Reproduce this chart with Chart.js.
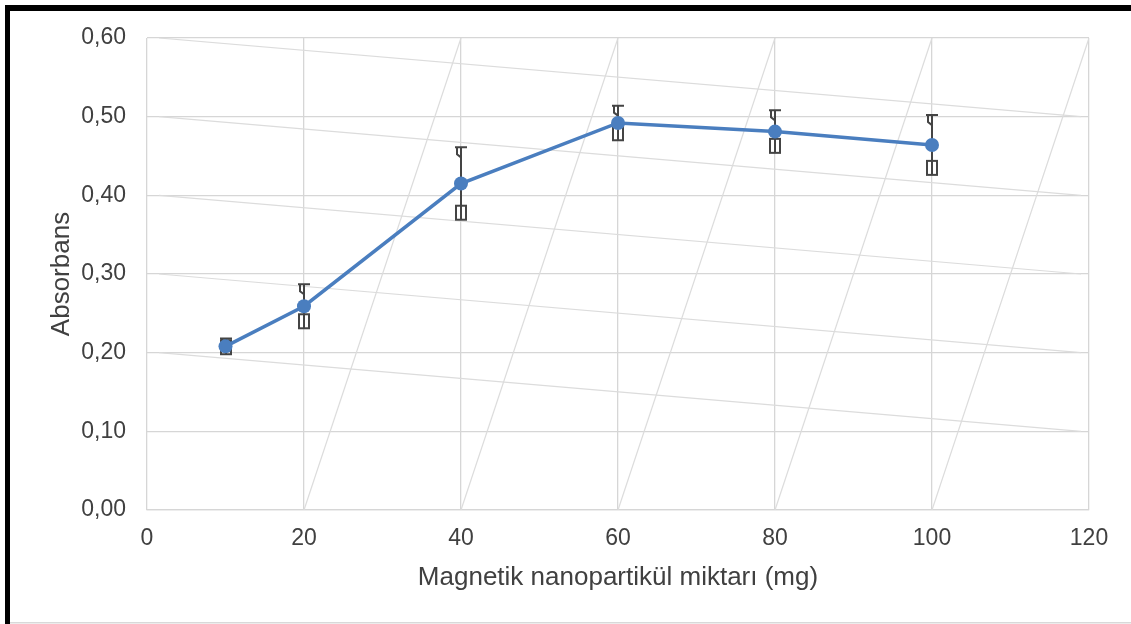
<!DOCTYPE html>
<html>
<head>
<meta charset="utf-8">
<script src="https://cdn.jsdelivr.net/npm/chart.js@4/dist/chart.umd.min.js"></script>
<style>
  html, body { margin: 0; padding: 0; background: #fff; }
  #wrap { width: 1131px; height: 624px; position: relative; }
</style>
</head>
<body>
<div id="wrap"><canvas id="chart" width="1131" height="624"></canvas></div>
<script>
// data
const xValues = [10, 20, 40, 60, 80, 100];
const absorbans = [0.208, 0.259, 0.415, 0.492, 0.481, 0.464];
const errors = [0.010, 0.028, 0.046, 0.022, 0.027, 0.038];

const xTicks = [0, 20, 40, 60, 80, 100, 120];
const yTicks = [0, 0.1, 0.2, 0.3, 0.4, 0.5, 0.6];

const xTitle = "Magnetik nanopartikül miktarı (mg)";
const yTitle = "Absorbans";

const FONT = "'Liberation Sans', Arial, sans-serif";
const TEXT = "#404040";
const GRID = "#d6d6d6";
const LINE = "#4a7ebf";

// frame round the picture
const framePlugin = {
  id: "frame",
  beforeDraw(chart) {
    const c = chart.ctx;
    c.save();
    c.fillStyle = "#fff";
    c.fillRect(0, 0, chart.width, chart.height);
    c.fillStyle = "#000";
    c.fillRect(5, 5, chart.width - 5, 6);
    c.fillRect(5, 5, 5, chart.height - 5);
    c.fillStyle = "#d9d9d9";
    c.fillRect(10, chart.height - 2, chart.width - 10, 1.5);
    c.restore();
  }
};

// the slanted grid lines and the error bars
const extrasPlugin = {
  id: "extras",
  beforeDatasetsDraw(chart) {
    const c = chart.ctx;
    const xs = chart.scales.x, ys = chart.scales.y;
    const a = chart.chartArea;
    c.save();
    c.beginPath();
    c.rect(a.left, a.top, a.right - a.left, a.bottom - a.top);
    c.clip();
    c.strokeStyle = "#dcdcdc";
    c.lineWidth = 1.2;
    // near-horizontal lines: one tick down across the plot
    for (let i = 2; i < yTicks.length; i++) {
      c.beginPath();
      c.moveTo(a.left + 12, ys.getPixelForValue(yTicks[i]));
      c.lineTo(a.right - 8, ys.getPixelForValue(yTicks[i - 1]));
      c.stroke();
    }
    // steep lines: one tick right from bottom to top
    for (let i = 1; i < xTicks.length - 1; i++) {
      c.beginPath();
      c.moveTo(xs.getPixelForValue(xTicks[i]), ys.getPixelForValue(yTicks[0]));
      c.lineTo(xs.getPixelForValue(xTicks[i + 1]), ys.getPixelForValue(yTicks[yTicks.length - 1]));
      c.stroke();
    }
    c.restore();

    // error bars
    c.save();
    c.strokeStyle = "#444";
    c.lineWidth = 2;
    for (let i = 0; i < xValues.length; i++) {
      const px = Math.round(xs.getPixelForValue(xValues[i]));
      const top = ys.getPixelForValue(absorbans[i] + errors[i]);
      const bot = ys.getPixelForValue(absorbans[i] - errors[i]);
      c.beginPath();
      c.moveTo(px - 6, top); c.lineTo(px + 6, top);
      c.moveTo(px - 4, top); c.lineTo(px - 4, top + 7); c.lineTo(px, top + 10);
      c.moveTo(px, top); c.lineTo(px, bot);
      c.stroke();
      c.strokeRect(px - 5, bot - 14, 10, 14);
      c.beginPath();
      c.moveTo(px, bot - 14); c.lineTo(px, bot);
      c.stroke();
    }
    c.restore();
  }
};

new Chart(document.getElementById("chart"), {
  type: "line",
  data: {
    datasets: [{
      data: xValues.map((x, i) => ({ x: x, y: absorbans[i] })),
      borderColor: LINE,
      backgroundColor: LINE,
      borderWidth: 3.5,
      pointRadius: 7,
      pointBorderWidth: 0,
      pointHoverRadius: 7,
      tension: 0
    }]
  },
  options: {
    responsive: false,
    animation: false,
    events: [],
    layout: { padding: { left: 0, right: 42, top: 38, bottom: 0 } },
    plugins: {
      legend: { display: false },
      tooltip: { enabled: false }
    },
    scales: {
      x: {
        type: "linear",
        min: xTicks[0],
        max: xTicks[xTicks.length - 1],
        afterBuildTicks(scale) { scale.ticks = xTicks.map(v => ({ value: v })); },
        afterFit(scale) { scale.height = 114; },
        grid: { color: GRID, lineWidth: 1.3, drawTicks: false },
        border: { color: GRID, width: 1.3 },
        ticks: {
          padding: 15,
          color: TEXT,
          font: { family: FONT, size: 23 },
          callback: v => String(v)
        },
        title: {
          display: true,
          text: xTitle,
          color: TEXT,
          font: { family: FONT, size: 26 },
          padding: { top: 0, bottom: 31 }
        }
      },
      y: {
        min: yTicks[0],
        max: yTicks[yTicks.length - 1],
        afterBuildTicks(scale) { scale.ticks = yTicks.map(v => ({ value: v })); },
        afterFit(scale) { scale.width = 147; },
        grid: { color: GRID, lineWidth: 1.3, drawTicks: false },
        border: { display: false },
        ticks: {
          padding: 21,
          color: TEXT,
          font: { family: FONT, size: 23 },
          callback: v => v.toFixed(2).replace(".", ",")
        },
        title: {
          display: true,
          text: yTitle,
          color: TEXT,
          font: { family: FONT, size: 26 },
          padding: { top: 46, bottom: 0 }
        }
      }
    }
  },
  plugins: [framePlugin, extrasPlugin]
});
</script>
</body>
</html>
